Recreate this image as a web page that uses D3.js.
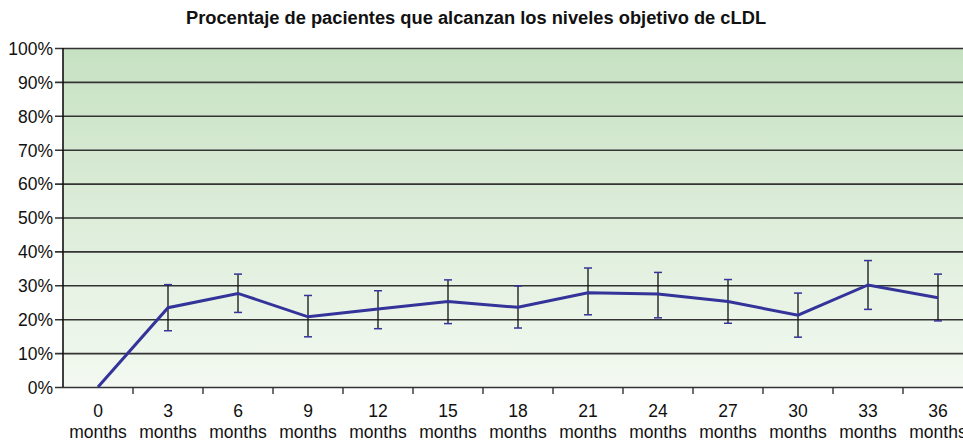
<!DOCTYPE html>
<html>
<head>
<meta charset="utf-8">
<script src="https://cdn.jsdelivr.net/npm/d3@7"></script>
<style>
  body { margin: 0; background: #fff; overflow: hidden; }
  svg { display: block; font-family: "Liberation Sans", Arial, sans-serif; }
</style>
</head>
<body>
<svg id="chart" width="963" height="442"></svg>
<script>
// data
var months = ["0", "3", "6", "9", "12", "15", "18", "21", "24", "27", "30", "33", "36"];
var pct    = [0, 23.4, 27.6, 20.7, 23.0, 25.2, 23.5, 27.8, 27.4, 25.2, 21.2, 30.1, 26.3];
var upper  = [null, 30.2, 33.3, 27.0, 28.4, 31.6, 29.8, 35.1, 33.8, 31.7, 27.7, 37.3, 33.3];
var lower  = [null, 16.6, 22.0, 14.8, 17.2, 18.7, 17.4, 21.3, 20.4, 18.8, 14.7, 22.9, 19.5];
var yTicks = [0, 10, 20, 30, 40, 50, 60, 70, 80, 90, 100];

var svg = d3.select("#chart");
var padL = 63, padT = 48, plotB = 387, bandW = 70;

var x = d3.scaleBand().domain(months).range([padL, padL + bandW * months.length]);
var y = d3.scaleLinear().domain([0, 100]).range([plotB, padT]);
var plotW = x.range()[1] - padL;

// background gradient
var grad = svg.append("defs").append("linearGradient")
  .attr("id", "bg").attr("x1", 0).attr("y1", 0).attr("x2", 0).attr("y2", 1);
grad.append("stop").attr("offset", "0%").attr("stop-color", "#c6e1c2");
grad.append("stop").attr("offset", "100%").attr("stop-color", "#f3f9f1");

svg.append("rect")
  .attr("x", padL).attr("y", padT)
  .attr("width", plotW).attr("height", plotB - padT)
  .attr("fill", "url(#bg)");

// title
svg.append("text")
  .attr("x", 476).attr("y", 23.5)
  .attr("text-anchor", "middle")
  .attr("font-size", 18.3).attr("font-weight", "bold").attr("fill", "#111")
  .text("Procentaje de pacientes que alcanzan los niveles objetivo de cLDL");

// y axis with gridlines
var yAxis = d3.axisLeft(y).tickValues(yTicks)
  .tickFormat(function(d) { return d + "%"; })
  .tickSize(-plotW).tickPadding(10);
var gy = svg.append("g").attr("transform", "translate(" + padL + ",0)").call(yAxis);
gy.select(".domain").remove();
gy.selectAll(".tick line").attr("stroke", "#333").attr("stroke-width", 1.6).attr("x1", -8);
gy.selectAll(".tick text").attr("font-size", 17.5).attr("fill", "#111")
  .attr("font-family", "'Liberation Sans', Arial, sans-serif").attr("dy", "0.36em");
svg.append("line").attr("x1", padL).attr("x2", padL).attr("y1", padT).attr("y2", plotB)
  .attr("stroke", "#111").attr("stroke-width", 1.6);

// x axis: ticks at band edges
var edges = months.map(function(m) { return x(m) + bandW; });
svg.append("g").selectAll("line").data(edges).enter().append("line")
  .attr("x1", function(d) { return d; }).attr("x2", function(d) { return d; })
  .attr("y1", plotB).attr("y2", plotB + 7)
  .attr("stroke", "#333").attr("stroke-width", 1.4);

var lab = svg.append("g").selectAll("text").data(months).enter().append("text")
  .attr("text-anchor", "middle").attr("font-size", 17.5).attr("fill", "#111");
lab.append("tspan").attr("x", function(d) { return x(d) + bandW / 2; }).attr("y", 417).text(function(d) { return d; });
lab.append("tspan").attr("x", function(d) { return x(d) + bandW / 2; }).attr("y", 437.5).text("months");

// error bars
var cx = function(i) { return x(months[i]) + bandW / 2; };
var idx = d3.range(months.length).filter(function(i) { return upper[i] != null; });
var eb = svg.append("g");
eb.selectAll("line.v").data(idx).enter().append("line").attr("class", "v")
  .attr("x1", cx).attr("x2", cx)
  .attr("y1", function(i) { return y(upper[i]); }).attr("y2", function(i) { return y(lower[i]); })
  .attr("stroke", "#111").attr("stroke-width", 1.3);
[upper, lower].forEach(function(arr) {
  eb.append("g").selectAll("line").data(idx).enter().append("line")
    .attr("x1", function(i) { return cx(i) - 4; }).attr("x2", function(i) { return cx(i) + 4; })
    .attr("y1", function(i) { return y(arr[i]); }).attr("y2", function(i) { return y(arr[i]); })
    .attr("stroke", "#34349a").attr("stroke-width", 1.5);
});

// line
var line = d3.line()
  .x(function(d, i) { return cx(i); })
  .y(function(d) { return y(d); });
svg.append("path").datum(pct)
  .attr("d", line).attr("fill", "none")
  .attr("stroke", "#333399").attr("stroke-width", 3);
</script>
</body>
</html>
